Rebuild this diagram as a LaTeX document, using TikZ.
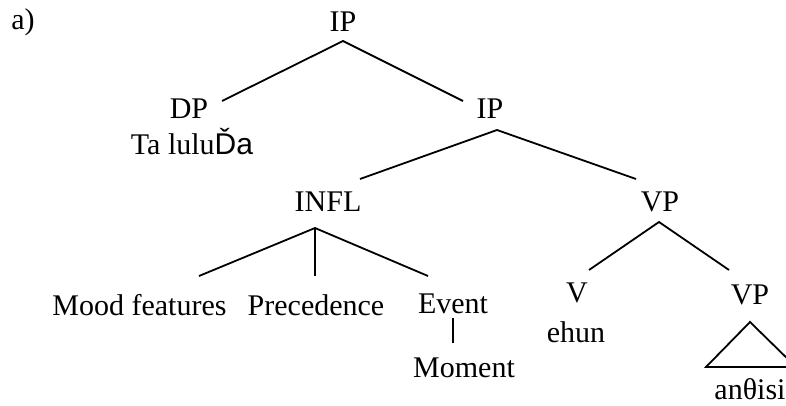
\documentclass[tikz,border=0pt]{standalone}
\usepackage{fontspec}
\setmainfont{Liberation Serif}
\newfontfamily\sansf{Liberation Sans}
\usetikzlibrary{positioning,calc}

\begin{document}
\begin{tikzpicture}[x=1pt,y=-1pt,
        lbl/.style={anchor=base,inner sep=0pt,font=\fontsize{30}{36}\selectfont},
        br/.style={draw,line width=1.8pt}]
        \useasboundingbox (0,0) rectangle (786,406);

        \node[lbl] (a) at (23,30) {a)};
        \node[lbl] (ip0) at (343,32) {IP};
        \node[lbl] (dp) at (189,119) {DP};
        \node[lbl] (ip1) at (490,119) {IP};
        \node[lbl] (ta) at (192,155) {Ta lulu{\sansf Ďa}};
        \node[lbl] (infl) at (328,211) {INFL};
        \node[lbl] (vp1) at (660,211) {VP};
        \node[lbl] (mood) at (139.5,315) {Mood features};
        \node[lbl] (prec) at (316,315) {Precedence};
        \node[lbl] (event) at (453,313) {Event};
        \node[lbl] (moment) at (464,377) {Moment};
        \node[lbl] (v) at (577,302) {V};
        \node[lbl] (ehun) at (576,342) {ehun};
        \node[lbl] (vp2) at (750,304) {VP};
        \node[lbl] (an) at (750,399) {anθisi};

        \draw[br] ($(dp.base)+(33,-18)$) -- ($(ip0.base)+(0,9)$) -- ($(ip1.base)+(-27,-18)$);
        \draw[br] ($(infl.base)+(32,-32)$) -- ($(ip1.base)+(7,11)$) -- ($(vp1.base)+(-24,-32)$);

        \draw[br] ($(mood.base)+(59.5,-39)$) -- ($(infl.base)+(-13,17)$) -- ($(event.base)+(-25,-37)$);
        \draw[br] ($(infl.base)+(-13,17)$) -- ($(prec.base)+(-1,-39)$);
        \draw[br] ($(event.base)+(0,5)$) -- ($(moment.base)+(-11,-34)$);

        \draw[br] ($(v.base)+(12,-32)$) -- ($(vp1.base)+(-1,11)$) -- ($(vp2.base)+(-21,-34)$);
        \draw[br] ($(vp2.base)+(0,18)$) -- ($(an.base)+(-44,-32)$) -- ($(an.base)+(46,-32)$) -- cycle;
    \end{tikzpicture}
\end{document}
